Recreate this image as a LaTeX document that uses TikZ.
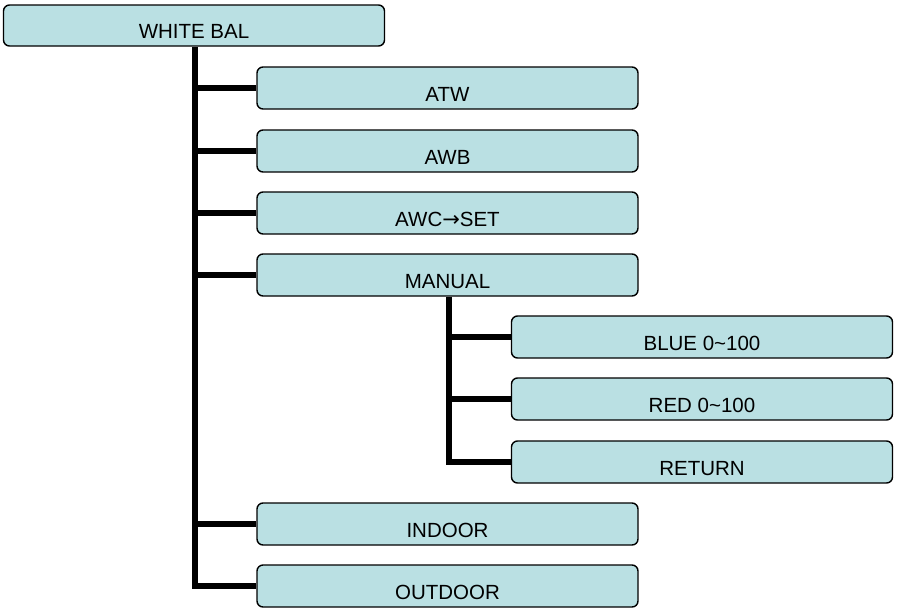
\documentclass[tikz,border=0pt]{standalone}
\usepackage{fontspec}
\setmainfont{Liberation Sans}
\newfontfamily\arrowfont{DejaVu Sans}
\definecolor{boxfill}{RGB}{186,224,227}
\begin{document}
\begin{tikzpicture}[x=1pt,y=-1pt,
  menubox/.style={draw=black, line width=1.4pt, fill=boxfill, rounded corners=6pt,
    minimum width=381pt, inner sep=0pt, text height=34pt, text depth=8pt,
    font=\fontsize{20.5}{24}\selectfont},
  conn/.style={draw=black, line width=6pt, line join=miter}]
\useasboundingbox (0,0) rectangle (899,608);
\node[menubox, text height=33pt] (wb) at (194,25.5) {WHITE BAL};
\node[menubox] (atw) at (447.5,88) {ATW};
\node[menubox] (awb) at (447.5,151) {AWB};
\node[menubox] (awc) at (447.5,213) {AWC{\arrowfont\fontsize{21}{24}\selectfont →}SET};
\node[menubox] (manual) at (447.5,275) {MANUAL};
\node[menubox] (blue) at (702,337) {BLUE 0\char`~100};
\node[menubox] (red) at (702,399) {RED 0\char`~100};
\node[menubox] (ret) at (702,462) {RETURN};
\node[menubox] (indoor) at (447.5,524) {INDOOR};
\node[menubox] (outdoor) at (447.5,586) {OUTDOOR};
\coordinate (trunk) at (195,0);
\coordinate (subtrunk) at (449,0);
\draw[conn] (wb.south -| trunk) |- (outdoor.west);
\foreach \n in {atw,awb,awc,manual,indoor}
  \draw[conn] (trunk |- \n.west) -- (\n.west);
\draw[conn] (manual.south -| subtrunk) |- (ret.west);
\foreach \n in {blue,red}
  \draw[conn] (subtrunk |- \n.west) -- (\n.west);
\end{tikzpicture}
\end{document}
